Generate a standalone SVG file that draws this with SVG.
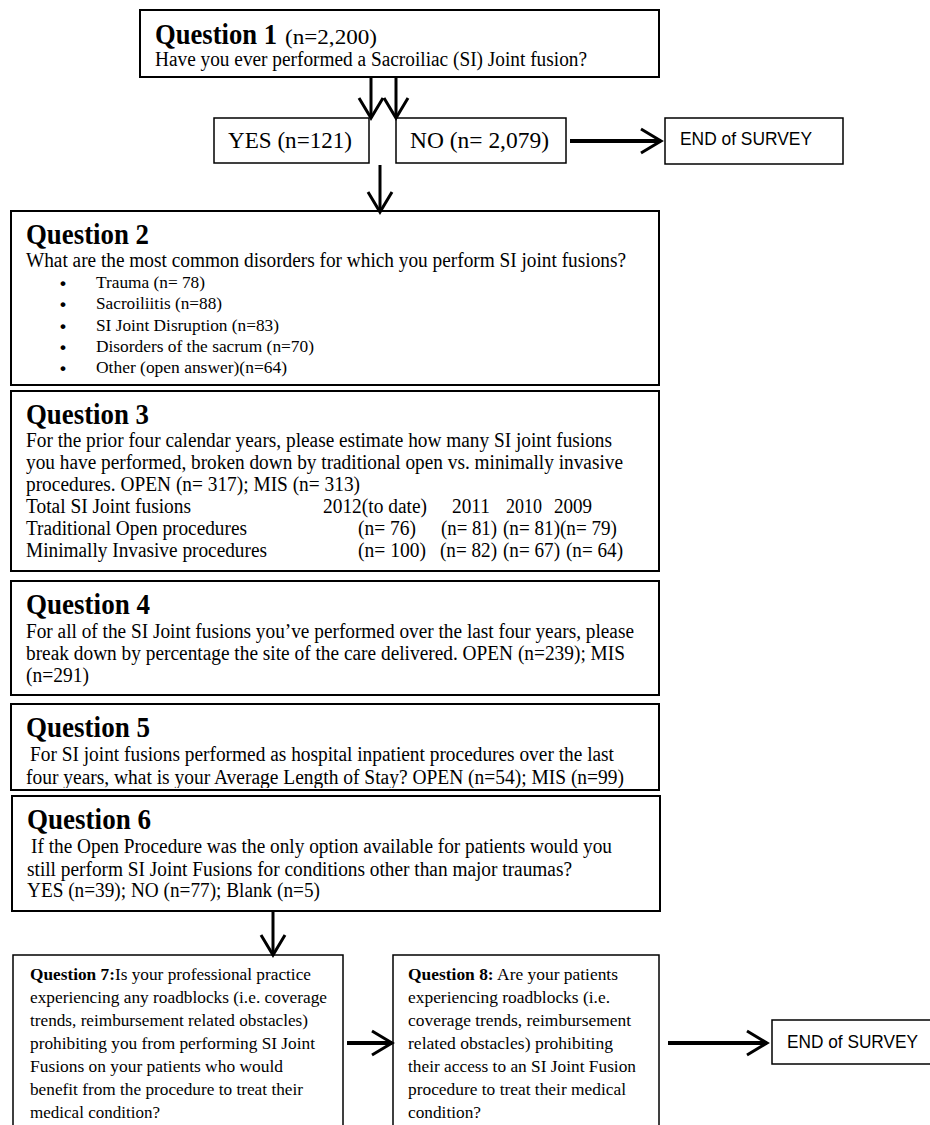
<svg xmlns="http://www.w3.org/2000/svg" width="930" height="1125" viewBox="0 0 930 1125">
<style>
.box{fill:#fff;stroke:#000;stroke-width:2}
.sbox{fill:#fff;stroke:#000;stroke-width:1.5}
.t{font-family:"Liberation Serif","Times New Roman",serif;font-size:20.5px;fill:#000}
.h{font-family:"Liberation Serif","Times New Roman",serif;font-size:30px;font-weight:bold;fill:#000}
.s{font-family:"Liberation Serif","Times New Roman",serif;font-size:17.5px;fill:#000}
.bold{font-weight:bold}
.yn{font-family:"Liberation Serif","Times New Roman",serif;font-size:24px;fill:#000}
.e{font-family:"Liberation Sans",Arial,sans-serif;font-size:19px;fill:#000}
.b{font-family:"Liberation Sans",Arial,sans-serif;font-size:17px;font-weight:bold;fill:#000}
.c{fill:none;stroke:#000;stroke-width:3}
.c4{fill:none;stroke:#000;stroke-width:4}
</style>
<defs>
<marker id="v" viewBox="0 0 26 28" refX="22" refY="14" markerWidth="26" markerHeight="28" markerUnits="userSpaceOnUse" orient="auto">
<path d="M2,2 L22,14 L2,26" fill="none" stroke="#000" stroke-width="3"/>
</marker>
<clipPath id="q5clip"><rect x="11" y="704" width="648" height="84"/></clipPath>
</defs>

<g id="q1">
<rect class="box" x="140" y="10" width="519" height="67"/>
<text class="h" x="155" y="44" textLength="122" lengthAdjust="spacingAndGlyphs">Question 1</text>
<text class="t" x="285" y="44" font-size="23" textLength="92" lengthAdjust="spacingAndGlyphs">(n=2,200)</text>
<text class="t" x="155" y="66" font-size="19.5" textLength="432" lengthAdjust="spacingAndGlyphs">Have you ever performed a Sacroiliac (SI) Joint fusion?</text>
</g>

<g id="yes">
<rect class="sbox" x="214" y="118" width="155" height="45"/>
<text class="yn" x="228" y="148" textLength="124" lengthAdjust="spacingAndGlyphs">YES (n=121)</text>
</g>

<g id="no">
<rect class="sbox" x="396" y="118" width="170" height="45"/>
<text class="yn" x="410" y="148" textLength="139" lengthAdjust="spacingAndGlyphs">NO (n= 2,079)</text>
</g>

<g id="end1">
<rect class="sbox" x="665" y="118" width="178" height="46"/>
<text class="e" x="680" y="145" textLength="132" lengthAdjust="spacingAndGlyphs">END of SURVEY</text>
</g>

<g id="q2">
<rect class="box" x="11" y="211" width="648" height="174"/>
<text class="h" x="26" y="244" textLength="123" lengthAdjust="spacingAndGlyphs">Question 2</text>
<text class="t" x="26" y="267" textLength="600" lengthAdjust="spacingAndGlyphs">What are the most common disorders for which you perform SI joint fusions?</text>
<g class="b">
<text x="60" y="289">•</text><text x="60" y="310">•</text><text x="60" y="332">•</text><text x="60" y="353">•</text><text x="60" y="374">•</text>
</g>
<g class="s">
<text x="96" y="288" textLength="109" lengthAdjust="spacingAndGlyphs">Trauma (n= 78)</text>
<text x="96" y="309" textLength="126" lengthAdjust="spacingAndGlyphs">Sacroiliitis (n=88)</text>
<text x="96" y="331" textLength="183" lengthAdjust="spacingAndGlyphs">SI Joint Disruption (n=83)</text>
<text x="96" y="352" textLength="218" lengthAdjust="spacingAndGlyphs">Disorders of the sacrum (n=70)</text>
<text x="96" y="373" textLength="191" lengthAdjust="spacingAndGlyphs">Other (open answer)(n=64)</text>
</g>
</g>

<g id="q3">
<rect class="box" x="11" y="391" width="648" height="180"/>
<text class="h" x="26" y="424" textLength="123" lengthAdjust="spacingAndGlyphs">Question 3</text>
<text class="t" x="26" y="447" textLength="586" lengthAdjust="spacingAndGlyphs">For the prior four calendar years, please estimate how many SI joint fusions</text>
<text class="t" x="26" y="469" textLength="597" lengthAdjust="spacingAndGlyphs">you have performed, broken down by traditional open vs. minimally invasive</text>
<text class="t" x="26" y="491" textLength="334" lengthAdjust="spacingAndGlyphs">procedures. OPEN (n= 317); MIS (n= 313)</text>
<text class="t" x="26" y="513" textLength="165" lengthAdjust="spacingAndGlyphs">Total SI Joint fusions</text>
<text class="t" x="323" y="513" textLength="104" lengthAdjust="spacingAndGlyphs">2012(to date)</text>
<text class="t" x="452" y="513" textLength="38" lengthAdjust="spacingAndGlyphs">2011</text>
<text class="t" x="506" y="513" textLength="36" lengthAdjust="spacingAndGlyphs">2010</text>
<text class="t" x="554" y="513" textLength="38" lengthAdjust="spacingAndGlyphs">2009</text>
<text class="t" x="26" y="535" textLength="221" lengthAdjust="spacingAndGlyphs">Traditional Open procedures</text>
<text class="t" x="358" y="535" textLength="58" lengthAdjust="spacingAndGlyphs">(n= 76)</text>
<text class="t" x="441" y="535" textLength="56" lengthAdjust="spacingAndGlyphs">(n= 81)</text>
<text class="t" x="503" y="535" textLength="114" lengthAdjust="spacingAndGlyphs">(n= 81)(n= 79)</text>
<text class="t" x="26" y="557" textLength="241" lengthAdjust="spacingAndGlyphs">Minimally Invasive procedures</text>
<text class="t" x="358" y="557" textLength="68" lengthAdjust="spacingAndGlyphs">(n= 100)</text>
<text class="t" x="440" y="557" textLength="57" lengthAdjust="spacingAndGlyphs">(n= 82)</text>
<text class="t" x="503" y="557" textLength="57" lengthAdjust="spacingAndGlyphs">(n= 67)</text>
<text class="t" x="566" y="557" textLength="57" lengthAdjust="spacingAndGlyphs">(n= 64)</text>
</g>

<g id="q4">
<rect class="box" x="11" y="581" width="648" height="114"/>
<text class="h" x="26" y="614" textLength="124" lengthAdjust="spacingAndGlyphs">Question 4</text>
<text class="t" x="26" y="638" textLength="608" lengthAdjust="spacingAndGlyphs">For all of the SI Joint fusions you’ve performed over the last four years, please</text>
<text class="t" x="26" y="660" textLength="599" lengthAdjust="spacingAndGlyphs">break down by percentage the site of the care delivered. OPEN (n=239); MIS</text>
<text class="t" x="26" y="682" textLength="63" lengthAdjust="spacingAndGlyphs">(n=291)</text>
</g>

<g id="q5">
<rect class="box" x="11" y="704" width="648" height="86"/>
<text class="h" x="26" y="737" textLength="124" lengthAdjust="spacingAndGlyphs">Question 5</text>
<g clip-path="url(#q5clip)">
<text class="t" x="30" y="761" textLength="584" lengthAdjust="spacingAndGlyphs">For SI joint fusions performed as hospital inpatient procedures over the last</text>
<text class="t" x="26" y="784" textLength="598" lengthAdjust="spacingAndGlyphs">four years, what is your Average Length of Stay? OPEN (n=54); MIS (n=99)</text>
</g>
</g>

<g id="q6">
<rect class="box" x="12" y="796" width="648" height="115"/>
<text class="h" x="27" y="829" textLength="124" lengthAdjust="spacingAndGlyphs">Question 6</text>
<text class="t" x="31" y="853" textLength="581" lengthAdjust="spacingAndGlyphs">If the Open Procedure was the only option available for patients would you</text>
<text class="t" x="27" y="876" textLength="545" lengthAdjust="spacingAndGlyphs">still perform SI Joint Fusions for conditions other than major traumas?</text>
<text class="t" x="27" y="897" textLength="293" lengthAdjust="spacingAndGlyphs">YES (n=39); NO (n=77); Blank (n=5)</text>
</g>

<g id="q7">
<rect class="sbox" x="13" y="955" width="330" height="175"/>
<text class="s" x="30" y="980" textLength="281" lengthAdjust="spacingAndGlyphs"><tspan class="bold">Question 7:</tspan>Is your professional practice</text>
<text class="s" x="30" y="1003" textLength="297" lengthAdjust="spacingAndGlyphs">experiencing any roadblocks (i.e. coverage</text>
<text class="s" x="30" y="1026" textLength="278" lengthAdjust="spacingAndGlyphs">trends, reimbursement related obstacles)</text>
<text class="s" x="30" y="1049" textLength="285" lengthAdjust="spacingAndGlyphs">prohibiting you from performing SI Joint</text>
<text class="s" x="30" y="1072" textLength="253" lengthAdjust="spacingAndGlyphs">Fusions on your patients who would</text>
<text class="s" x="30" y="1095" textLength="273" lengthAdjust="spacingAndGlyphs">benefit from the procedure to treat their</text>
<text class="s" x="30" y="1118" textLength="130" lengthAdjust="spacingAndGlyphs">medical condition?</text>
</g>

<g id="q8">
<rect class="sbox" x="393" y="955" width="266" height="175"/>
<text class="s" x="408" y="980" textLength="210" lengthAdjust="spacingAndGlyphs"><tspan class="bold">Question 8:</tspan> Are your patients</text>
<text class="s" x="408" y="1003" textLength="202" lengthAdjust="spacingAndGlyphs">experiencing roadblocks (i.e.</text>
<text class="s" x="408" y="1026" textLength="223" lengthAdjust="spacingAndGlyphs">coverage trends, reimbursement</text>
<text class="s" x="408" y="1049" textLength="205" lengthAdjust="spacingAndGlyphs">related obstacles) prohibiting</text>
<text class="s" x="408" y="1072" textLength="228" lengthAdjust="spacingAndGlyphs">their access to an SI Joint Fusion</text>
<text class="s" x="408" y="1095" textLength="218" lengthAdjust="spacingAndGlyphs">procedure to treat their medical</text>
<text class="s" x="408" y="1118" textLength="73" lengthAdjust="spacingAndGlyphs">condition?</text>
</g>

<g id="end2">
<rect class="sbox" x="772" y="1020" width="160" height="44"/>
<text class="e" x="787" y="1048" textLength="131" lengthAdjust="spacingAndGlyphs">END of SURVEY</text>
</g>

<g id="connectors">
<line class="c" x1="371" y1="77" x2="371" y2="118" marker-end="url(#v)"/>
<line class="c" x1="396" y1="77" x2="396" y2="118" marker-end="url(#v)"/>
<line class="c4" x1="570" y1="141" x2="661" y2="141" marker-end="url(#v)"/>
<line class="c" x1="380" y1="165" x2="380" y2="212" marker-end="url(#v)"/>
<line class="c" x1="273" y1="911" x2="273" y2="955" marker-end="url(#v)"/>
<line class="c4" x1="347" y1="1043" x2="392" y2="1043" marker-end="url(#v)"/>
<line class="c4" x1="668" y1="1043" x2="767" y2="1043" marker-end="url(#v)"/>
</g>
</svg>
